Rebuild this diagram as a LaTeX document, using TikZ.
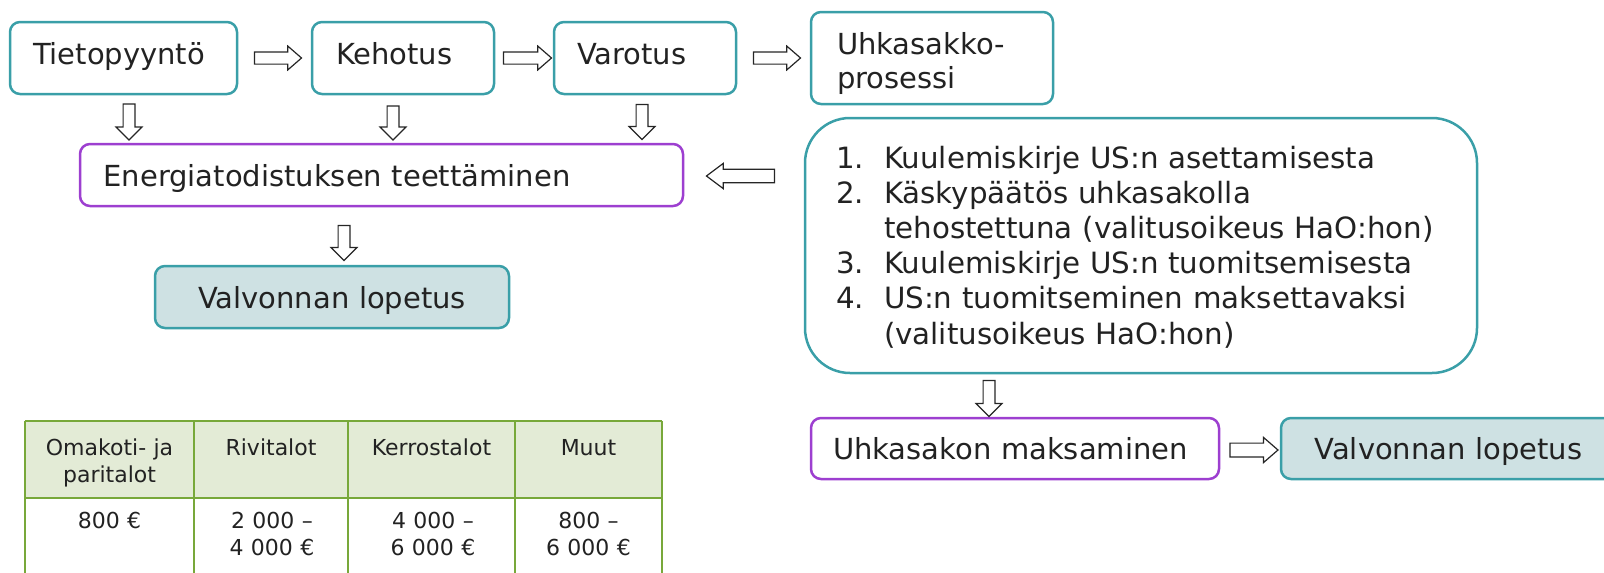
\documentclass[tikz,border=0pt]{standalone}
\usepackage{fontspec}
\setmainfont{DejaVu Sans}
\usetikzlibrary{shapes.arrows,calc}
\definecolor{tealc}{HTML}{3A9FA8}
\definecolor{tealfill}{HTML}{CEE1E3}
\definecolor{purp}{HTML}{9D3FD0}
\definecolor{grn}{HTML}{78A83A}
\definecolor{hdr}{HTML}{E3EBD6}
\definecolor{txt}{HTML}{222222}
\newcommand\fmain{\fontsize{29pt}{34pt}\selectfont}
\newcommand\fbig{\fontsize{29.3pt}{35.2pt}\selectfont}
\newcommand\ftab{\fontsize{22pt}{27pt}\selectfont}
\begin{document}
\begin{tikzpicture}[x=1pt,y=-1pt,
 box/.style={draw=tealc, line width=2.5pt, rounded corners=10pt, inner ysep=0pt, align=left, text height=22pt, font=\fmain, text=txt},
 pbox/.style={box, draw=purp},
 ebox/.style={box, fill=tealfill, align=center},
 barrow/.style={single arrow, draw=black!85, line width=1.2pt, fill=white},
 harrow/.style={barrow, inner sep=5.5pt, minimum height=47pt, single arrow head extend=5.8pt, single arrow tip angle=82},
 varrow/.style={barrow, inner sep=5.3pt, shape border rotate=270, minimum height=35pt, single arrow head extend=7pt, single arrow tip angle=90},
 tcell/.style={font=\ftab, text=txt, align=center, text width=140pt, inner sep=0pt, anchor=base},
 tline/.style={draw=grn, line width=2.5pt},
]
\useasboundingbox (0,0) rectangle (1604,573);
\clip (0,0) rectangle (1604,573);

% top row
\node[box, minimum width=227pt, minimum height=72pt, inner xsep=23pt, text width=181pt, text depth=10pt] (tieto) at (123.5,58) {Tietopyyntö};
\node[box, minimum width=182pt, minimum height=72pt, inner xsep=24pt, text width=134pt, text depth=10pt] (keho) at (403,58) {Kehotus};
\node[box, minimum width=182pt, minimum height=72pt, inner xsep=23pt, text width=136pt, text depth=10pt] (varo) at (645,58) {Varotus};
\node[box, minimum width=242pt, minimum height=92pt, inner xsep=26pt, text width=190pt, text depth=30pt] (uhka) at (932,58) {Uhkasakko-\\prosessi};

% second row
\node[pbox, minimum width=603pt, minimum height=62pt, inner xsep=23.5pt, text width=556pt, text depth=0pt] (energia) at (381.5,175) {Energiatodistuksen teettäminen};
\node[box, rounded corners=45pt, minimum width=672pt, minimum height=255pt, inner xsep=31pt, text width=610pt, text depth=177pt, font=\fbig] (big) at (1141,245.5) {%
\makebox[48pt][l]{1.}Kuulemiskirje US:n asettamisesta\\
\makebox[48pt][l]{2.}Käskypäätös uhkasakolla\\
\hspace*{48pt}tehostettuna (valitusoikeus HaO:hon)\\
\makebox[48pt][l]{3.}Kuulemiskirje US:n tuomitsemisesta\\
\makebox[48pt][l]{4.}US:n tuomitseminen maksettavaksi\\
\hspace*{48pt}(valitusoikeus HaO:hon)};

% lower boxes
\node[ebox, minimum width=354pt, minimum height=62pt, inner xsep=27pt, text width=300pt, text depth=0pt] (val1) at (332,297) {Valvonnan lopetus};
\node[pbox, minimum width=408pt, minimum height=61pt, inner xsep=22pt, text width=364pt, text depth=0pt] (maks) at (1015,448.5) {Uhkasakon maksaminen};
\node[ebox, minimum width=335pt, minimum height=61pt, inner xsep=27pt, text width=281pt, text depth=0pt] (val2) at (1448.5,448.5) {Valvonnan lopetus};

% block arrows
\node[harrow] (a1) at ($(tieto.east)!.5!(keho.west)$) {};
\node[harrow, minimum height=48pt] (a2) at ($(keho.east)!.5!(varo.west)$) {};
\node[harrow] (a3) at ($(varo.east)!.5!(uhka.west |- varo.east)$) {};
\node[varrow, minimum height=36pt] (d1) at ($(tieto.south)!.5!(tieto.south |- energia.north)+(5.5,0)$) {};
\node[varrow, minimum height=34pt] (d2) at ($(keho.south)!.5!(keho.south |- energia.north)+(-10,1)$) {};
\node[varrow] (d3) at ($(varo.south)!.5!(varo.south |- energia.north)+(-3,0)$) {};
\node[barrow, inner sep=6.2pt, shape border rotate=180, minimum height=68pt, single arrow head extend=5.8pt, single arrow tip angle=74] (l1) at ($(energia.east)!.5!(big.west |- energia.east)+(1,1)$) {};
\node[varrow] (d4) at ($(energia.south)!.5!(energia.south |- val1.north)+(-37.5,4)$) {};
\node[varrow, minimum height=36pt] (d5) at ($(big.south -| maks.north)!.5!(maks.north)+(-26,0)$) {};
\node[harrow, inner sep=6.3pt, minimum height=48pt, single arrow head extend=5.7pt] (a4) at ($(maks.east)!.5!(val2.west)+(0,1.5)$) {};

% table
\fill[hdr] (25,421) rectangle (662,498);
\draw[tline] (25,421) -- (662,421) (25,498) -- (662,498);
\foreach \x in {25,194,348,515,662} \draw[tline] (\x,421) -- (\x,600);
\node[tcell] (h1) at (109.5,455) {Omakoti- ja\\paritalot};
\node[tcell] (h2) at (271,455) {Rivitalot};
\node[tcell] (h3) at (431.5,455) {Kerrostalot};
\node[tcell] (h4) at (588.5,455) {Muut};
\node[tcell] (c1) at (109.5,528) {800~€};
\node[tcell] (c2) at (272,528) {2~000 –\\4~000~€};
\node[tcell] (c3) at (433,528) {4~000 –\\6~000~€};
\node[tcell] (c4) at (588.5,528) {800 –\\6~000~€};
\end{tikzpicture}
\end{document}
